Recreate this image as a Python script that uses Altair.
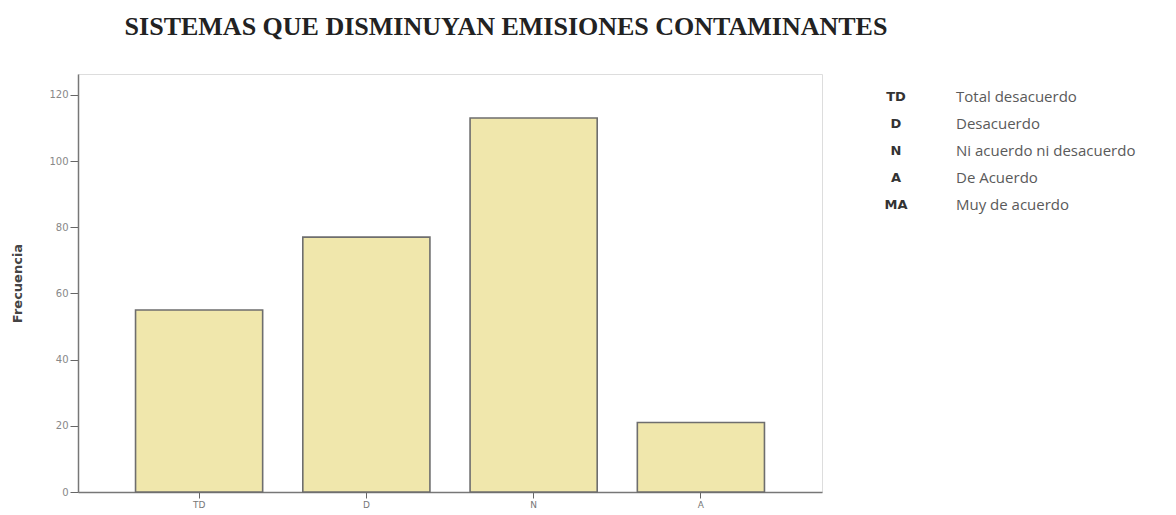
import altair as alt
import pandas as pd

categories = ["TD", "D", "N", "A"]
frequencies = [55, 77, 113, 21]

legend_codes = ["TD", "D", "N", "A", "MA"]
legend_labels = ["Total desacuerdo", "Desacuerdo", "Ni acuerdo ni desacuerdo",
                 "De Acuerdo", "Muy de acuerdo"]

title_text = "SISTEMAS QUE DISMINUYAN EMISIONES CONTAMINANTES"
y_ticks = [0, 20, 40, 60, 80, 100, 120]

bars_df = pd.DataFrame({"cat": categories, "freq": frequencies})
legend_df = pd.DataFrame({"code": legend_codes, "label": legend_labels})

bars = alt.Chart(bars_df).mark_bar(
    color="#F0E7AC", stroke="#6E6E6E", strokeWidth=1.6
).encode(
    x=alt.X("cat:N", sort=categories, title=None,
            scale=alt.Scale(paddingInner=0.24, paddingOuter=0.344),
            axis=alt.Axis(labelAngle=0, labelFontSize=9, labelColor="#777777",
                          labelFont="DejaVu Sans", tickSize=6, tickColor="#666666",
                          domainColor="#777777", domainWidth=1.5, labelPadding=2)),
    y=alt.Y("freq:Q", title="Frecuencia",
            scale=alt.Scale(domain=[0, 126.3], nice=False, zero=True),
            axis=alt.Axis(values=y_ticks, grid=False, labelFontSize=10,
                          labelColor="#888888", labelFont="DejaVu Sans",
                          tickSize=8, tickColor="#666666", domainColor="#777777",
                          domainWidth=1.5, labelPadding=2,
                          titleFontSize=13, titleFont="DejaVu Sans",
                          titleFontWeight="bold", titleColor="#444444",
                          titleX=-54, titleY=209)),
)

legend_y = alt.Scale(type="point", domain=legend_codes, range=[23, 131], padding=0)

leg_codes = alt.Chart(legend_df).mark_text(
    font="DejaVu Sans", fontSize=13, fontWeight="bold", color="#333333",
    align="center", baseline="middle"
).encode(
    x=alt.value(818),
    y=alt.Y("code:N", sort=legend_codes, axis=None, scale=legend_y),
    text="code:N",
)

leg_labels = alt.Chart(legend_df).mark_text(
    font="Open Sans", fontSize=15, color="#5A5A5A",
    align="left", baseline="middle"
).encode(
    x=alt.value(878),
    y=alt.Y("code:N", sort=legend_codes, axis=None, scale=legend_y),
    text="label:N",
)

legend_layer = alt.layer(leg_codes, leg_labels)

chart = alt.layer(bars, legend_layer).resolve_scale(y="independent").properties(
    width=744, height=418,
    padding={"left": 70, "top": 66, "right": 340, "bottom": 20},
    autosize=alt.AutoSizeParams(type="none"),
    title=alt.TitleParams(title_text, font="Liberation Serif", fontSize=26,
                          fontWeight="bold", color="#222222", anchor="middle",
                          dx=56, offset=34),
).configure_view(stroke="#A0A0A0", strokeWidth=1.2).configure(background="white")

chart.save("out.html", embed_options={"renderer": "svg", "actions": False})
